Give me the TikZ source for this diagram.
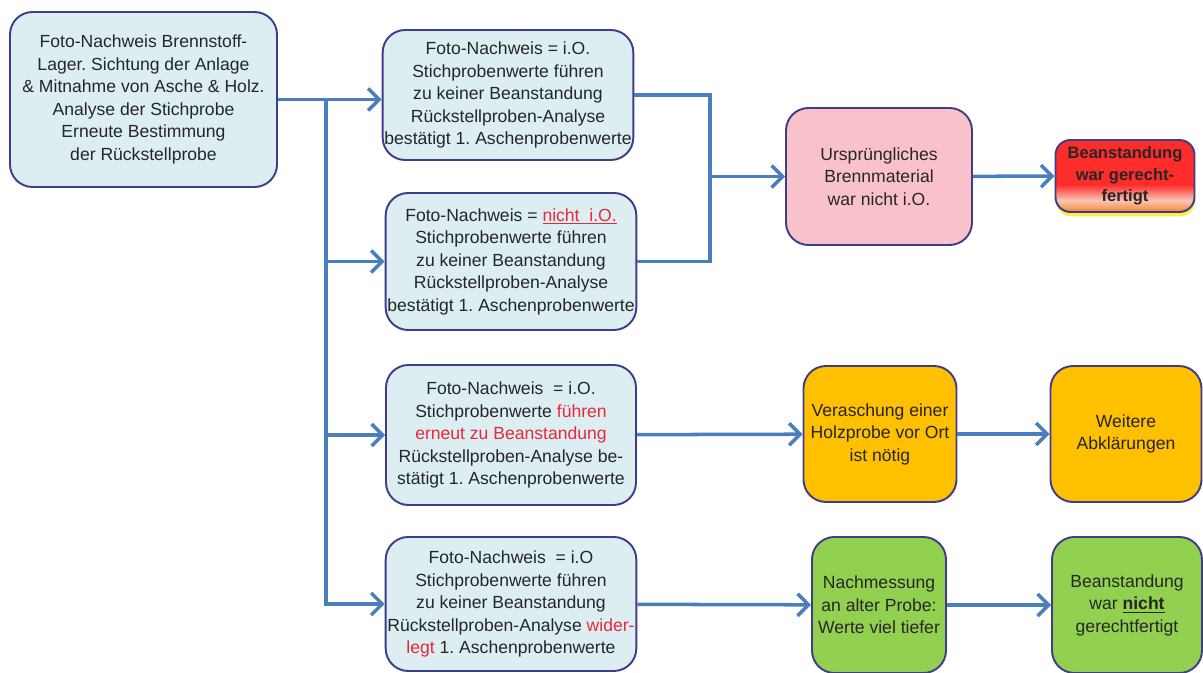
\documentclass[tikz,border=0pt]{standalone}
\usepackage{fontspec}
\setmainfont{Liberation Sans}
\usepackage{tikz}
\usetikzlibrary{arrows.meta, positioning, calc, shadows}
\usepackage{xcolor}
\frenchspacing

\definecolor{boxline}{HTML}{3E3D8C}
\definecolor{lightblue}{HTML}{DDEEF2}
\definecolor{arrowblue}{HTML}{4A7EBF}
\definecolor{pinkfill}{HTML}{F9C2CA}
\definecolor{orangefill}{HTML}{FFC000}
\definecolor{greenfill}{HTML}{92D050}
\definecolor{redtext}{HTML}{E8283C}
\definecolor{alarmred}{HTML}{FF2C2C}
\definecolor{alarmpale}{HTML}{F8C6B6}
\definecolor{alarmorange}{HTML}{F2842C}

\pgfdeclareverticalshading{alarm}{100bp}{color(0bp)=(alarmorange); color(25bp)=(alarmorange);
  color(33bp)=(alarmpale); color(44bp)=(alarmred); color(75bp)=(alarmred); color(100bp)=(alarmred)}

\begin{document}
\begin{tikzpicture}[>={Straight Barb[length=2.2mm,width=4.4mm]},
    every node/.style={font=\fontsize{10pt}{12.8pt}\selectfont, text=black!85, align=center},
    stepbox/.style={draw=boxline, line width=1.1pt, rounded corners=0.45cm, inner sep=1pt},
    infobox/.style={stepbox, fill=lightblue, minimum width=5cm},
    flow/.style={draw=arrowblue, line width=2pt}]
  \useasboundingbox (0,0) rectangle (24.06,-13.46);

  \node [infobox, minimum width=5.34cm, minimum height=3.5cm] (start) at (2.87,-1.99)
    {Foto-Nachweis Brennstoff-\\Lager. Sichtung der Anlage\\\& Mitnahme von Asche \& Holz.\\Analyse der Stichprobe\\Erneute Bestimmung\\der Rückstellprobe};

  \node [infobox, minimum height=2.6cm] (ok) at (10.16,-1.9)
    {Foto-Nachweis = i.O.\\Stichprobenwerte führen\\zu keiner Beanstandung\\Rückstellproben-Analyse\\bestätigt 1. Aschenprobenwerte};
  \node [infobox, minimum height=2.74cm] (notok) at (10.22,-5.23)
    {Foto-Nachweis = \textcolor{redtext}{\underline{nicht\ \ i.O.}}\\Stichprobenwerte führen\\zu keiner Beanstandung\\Rückstellproben-Analyse\\bestätigt 1. Aschenprobenwerte};
  \node [infobox, minimum height=2.8cm] (again) at (10.22,-8.7)
    {Foto-Nachweis\ \ = i.O.\\Stichprobenwerte \textcolor{redtext}{führen}\\\textcolor{redtext}{erneut zu Beanstandung}\\Rückstellproben-Analyse be-\\stätigt 1. Aschenprobenwerte};
  \node [infobox, minimum height=2.68cm] (refuted) at (10.22,-12.08)
    {Foto-Nachweis\ \ = i.O\\Stichprobenwerte führen\\zu keiner Beanstandung\\Rückstellproben-Analyse \textcolor{redtext}{wider-}\\\textcolor{redtext}{legt} 1. Aschenprobenwerte};

  \node [stepbox, fill=pinkfill, minimum width=3.72cm, minimum height=2.74cm] (material) at (17.58,-3.53)
    {Ursprüngliches\\Brennmaterial\\war nicht i.O.};
  \node [stepbox, rounded corners=0.3cm, minimum width=2.78cm, minimum height=1.44cm, shading=alarm,
         font=\fontsize{9.4pt}{12.2pt}\selectfont\bfseries,
         drop shadow={fill=yellow!90!orange, opacity=0.7, shadow xshift=0.3pt, shadow yshift=-2.5pt}] (justified) at (22.5,-3.52)
    {Beanstandung\\war gerecht-\\fertigt};

  \node [stepbox, fill=orangefill, minimum width=3.06cm, minimum height=2.72cm] (ashing) at (17.6,-8.68)
    {Veraschung einer\\Holzprobe vor Ort\\ist nötig};
  \node [stepbox, fill=orangefill, minimum width=3.02cm, minimum height=2.72cm] (further) at (22.52,-8.68)
    {Weitere\\Abklärungen};

  \node [stepbox, fill=greenfill, minimum width=2.68cm, minimum height=2.72cm] (remeasure) at (17.58,-12.1)
    {Nachmessung\\an alter Probe:\\Werte viel tiefer};
  \node [stepbox, fill=greenfill, minimum width=3.0cm, minimum height=2.72cm] (unjustified) at (22.54,-12.1)
    {Beanstandung\\war \textbf{\underline{nicht}}\\gerechtfertigt};

  % verteilung
  \coordinate (split) at ($(start.east)+(0.96,0)$);
  \coordinate (join) at (14.2,-3.53);
  \draw [flow, ->] (start.east) -- (start.east -| ok.west);
  \draw [flow] (split) -- (split |- refuted.west);
  \draw [flow, ->] (split) |- (notok.west);
  \draw [flow, ->] (split) |- (again.west);
  \draw [flow, ->] (split) |- (refuted.west);

  % zusammenfuehrung
  \draw [flow] (ok.east) -| (join);
  \draw [flow] (notok.east) -| (join);
  \draw [flow, ->] (join) -- (material);
  \draw [flow, ->] (material) -- (justified);
  \draw [flow, ->] (again) -- (ashing);
  \draw [flow, ->] (ashing) -- (further);
  \draw [flow, ->] (refuted) -- (remeasure);
  \draw [flow, ->] (remeasure) -- (unjustified);
\end{tikzpicture}
\end{document}
